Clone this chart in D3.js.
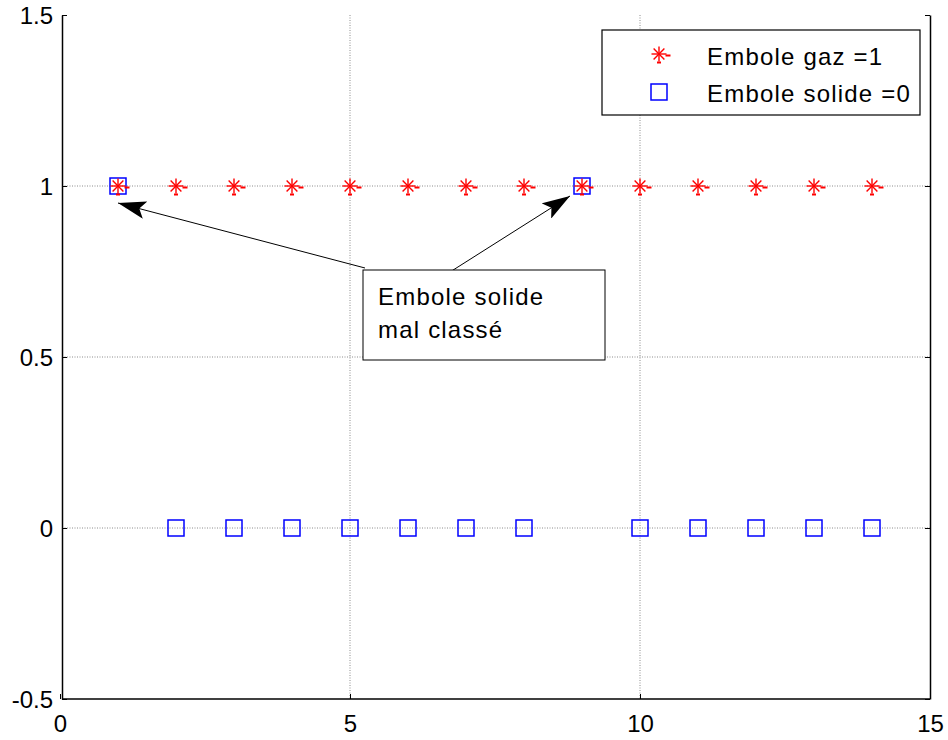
<!DOCTYPE html>
<html>
<head>
<meta charset="utf-8">
<script src="https://cdn.jsdelivr.net/npm/d3@7"></script>
<style>
  body { margin: 0; background: #fff; }
  svg { display: block; font-family: Arial, "Liberation Sans", sans-serif; }
</style>
</head>
<body>
<svg id="chart" width="948" height="740"></svg>
<script>
// Classification result: red stars = gas emboli (class 1), blue squares = predicted class
const xsGaz = [1, 2, 3, 4, 5, 6, 7, 8, 9, 10, 11, 12, 13, 14];
const ysGaz = [1, 1, 1, 1, 1, 1, 1, 1, 1, 1, 1, 1, 1, 1];
const xsSolide = [1, 2, 3, 4, 5, 6, 7, 8, 9, 10, 11, 12, 13, 14];
const ysSolide = [1, 0, 0, 0, 0, 0, 0, 0, 1, 0, 0, 0, 0, 0];
const xTicks = [0, 5, 10, 15];
const yTicks = [-0.5, 0, 0.5, 1, 1.5];
const legendLabels = ["Embole gaz =1", "Embole solide =0"];
const noteLines = ["Embole solide", "mal classé"];
const misclassified = [1, 9];

const FONT = "Arial, 'Liberation Sans', sans-serif";
const svg = d3.select("#chart");
const L = 62, R = 930, T = 15, B = 699;
const x = d3.scaleLinear().domain([0, 15]).range([60, R]);
const y = d3.scaleLinear().domain([-0.5, 1.5]).range([B, T]);

// grid
const grid = svg.append("g").attr("stroke", "#8c8c8c").attr("stroke-width", 1)
  .attr("stroke-dasharray", "1,1.5");
xTicks.slice(1, -1).forEach(v => grid.append("line")
  .attr("x1", x(v)).attr("x2", x(v)).attr("y1", T).attr("y2", B));
yTicks.slice(1, -1).forEach(v => grid.append("line")
  .attr("x1", L).attr("x2", R).attr("y1", y(v)).attr("y2", y(v)));

// axes
const fmt = d => String(d);
const xAxis = svg.append("g").attr("transform", `translate(0,${B})`)
  .call(d3.axisBottom(x).tickValues(xTicks).tickFormat(fmt).tickSizeInner(-5).tickSizeOuter(0).tickPadding(16));
xAxis.select("path.domain").attr("d", `M${L},0H${R}`);
const yAxis = svg.append("g").attr("transform", `translate(${L},0)`)
  .call(d3.axisLeft(y).tickValues(yTicks).tickFormat(fmt).tickSizeInner(-5).tickSizeOuter(0).tickPadding(9));
const yAxisR = svg.append("g").attr("transform", `translate(${R},0)`)
  .call(d3.axisRight(y).tickValues(yTicks).tickFormat("").tickSizeInner(-5).tickSizeOuter(0));
[xAxis, yAxis, yAxisR].forEach(g => {
  g.selectAll("path").attr("stroke", "#000").attr("stroke-width", 1.5);
  g.selectAll("line").attr("stroke", "#000");
  g.selectAll("text").attr("font-size", 24).attr("fill", "#000").attr("font-family", FONT);
});
yAxis.selectAll("text").attr("dy", "0.35em");
xAxis.selectAll("text").attr("dy", "0.71em");

// markers
function star(g, cx, cy, r) {
  const s = g.append("g").attr("stroke", "#ff0000").attr("stroke-width", 1.4);
  s.append("line").attr("x1", cx - r).attr("x2", cx + r).attr("y1", cy).attr("y2", cy);
  s.append("line").attr("x1", cx).attr("x2", cx).attr("y1", cy - r).attr("y2", cy + r);
  const d = r * 0.72;
  s.append("line").attr("x1", cx - d).attr("x2", cx + d).attr("y1", cy - d).attr("y2", cy + d);
  s.append("line").attr("x1", cx - d).attr("x2", cx + d).attr("y1", cy + d).attr("y2", cy - d);
  s.append("line").attr("x1", cx + r - 1).attr("x2", cx + r + 4).attr("y1", cy + 1.5).attr("y2", cy + 1.5)
    .attr("stroke-width", 2);
  s.append("line").attr("x1", cx - 2).attr("x2", cx + 2).attr("y1", cy + r + 1).attr("y2", cy + r + 1)
    .attr("stroke-width", 2);
}
function square(g, cx, cy, h) {
  g.append("rect").attr("x", cx - h).attr("y", cy - h).attr("width", 2 * h).attr("height", 2 * h)
    .attr("fill", "none").attr("stroke", "#0000ff").attr("stroke-width", 1.5);
}
const marks = svg.append("g");
xsSolide.forEach((v, i) => square(marks, x(v), y(ysSolide[i]), 8));
xsGaz.forEach((v, i) => star(marks, x(v), y(ysGaz[i]), 7.5));

// legend
const lg = svg.append("g").attr("font-family", FONT);
lg.append("rect").attr("x", 602).attr("y", 30).attr("width", 318).attr("height", 85)
  .attr("fill", "#fff").attr("stroke", "#000").attr("stroke-width", 1.2);
star(lg, 659, 54, 7.5);
square(lg, 659, 92, 8);
lg.append("text").attr("x", 707).attr("y", 65).attr("font-size", 24)
  .attr("letter-spacing", 1.2).text(legendLabels[0]);
lg.append("text").attr("x", 707).attr("y", 102).attr("font-size", 24)
  .attr("letter-spacing", 1.2).text(legendLabels[1]);

// annotation with arrows
const defs = svg.append("defs");
defs.append("marker").attr("id", "arr").attr("viewBox", "0 0 28 18").attr("refX", 28).attr("refY", 9)
  .attr("markerWidth", 28).attr("markerHeight", 18).attr("markerUnits", "userSpaceOnUse")
  .attr("orient", "auto")
  .append("path").attr("d", "M0,0 L28,9 L0,18 L6,9 Z").attr("fill", "#000");
const ann = svg.append("g").attr("font-family", FONT);
const starts = [[365, 268], [450, 272]];
misclassified.forEach((v, i) => {
  const tx = i === 0 ? x(v) + 0 : x(v) - 12;
  const ty = y(1) + (i === 0 ? 17 : 10);
  ann.append("line").attr("x1", starts[i][0]).attr("y1", starts[i][1]).attr("x2", tx).attr("y2", ty)
    .attr("stroke", "#000").attr("stroke-width", 1).attr("marker-end", "url(#arr)");
});
ann.append("rect").attr("x", 363).attr("y", 270).attr("width", 242).attr("height", 90)
  .attr("fill", "#fff").attr("stroke", "#000").attr("stroke-width", 1);
noteLines.forEach((t, i) => ann.append("text").attr("x", 378).attr("y", 305 + i * 33)
  .attr("font-size", 24).attr("letter-spacing", 1.2).text(t));
</script>
</body>
</html>
